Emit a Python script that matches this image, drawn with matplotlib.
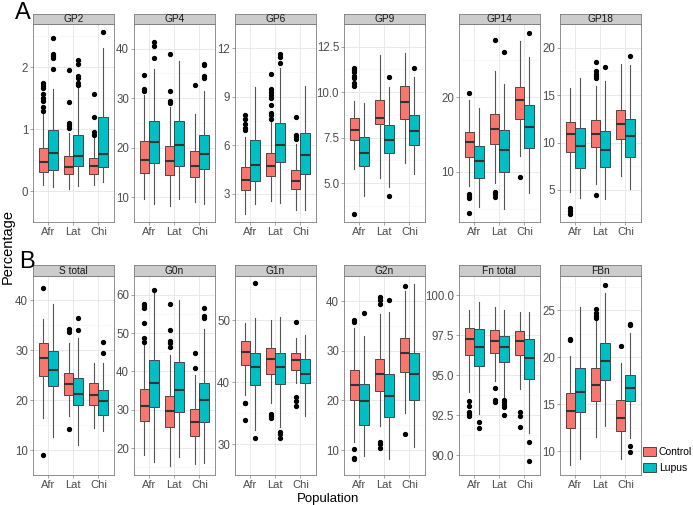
import matplotlib
matplotlib.use("Agg")
import matplotlib.pyplot as plt
from matplotlib.patches import Patch

plt.rcParams['font.family'] = ['Liberation Sans', 'DejaVu Sans']

# =========================================================================
# Datos: [bigote_inf, q1, mediana, q3, bigote_sup]
# orden de cajas: Afr-Control, Afr-Lupus, Lat-Control, Lat-Lupus, Chi-Control, Chi-Lupus
# =========================================================================
populations = ["Afr", "Lat", "Chi"]
groups = ["Control", "Lupus"]
colors = ["#F8766D", "#00BFC4"]

gp2_box = [[0.09, 0.30, 0.47, 0.69, 1.25], [0.07, 0.34, 0.61, 0.98, 1.65],
           [0.03, 0.27, 0.38, 0.57, 0.93], [0.08, 0.40, 0.56, 0.91, 1.68],
           [0.10, 0.28, 0.40, 0.53, 0.85], [0.14, 0.39, 0.60, 1.19, 2.31]]
gp2_out = [[1.30, 1.36, 1.45, 1.50, 1.56, 1.66, 1.70, 1.74], [1.97, 2.15, 2.18, 2.22, 2.47],
           [1.02, 1.06, 1.10, 1.43, 1.95], [1.72, 1.75, 1.83, 1.85, 2.05, 2.11],
           [0.91, 0.95, 1.20, 1.56], [2.57]]

gp4_box = [[9.7, 14.8, 17.5, 21.3, 30.7], [8.6, 17.0, 21.2, 25.5, 35.9],
           [8.3, 14.5, 17.4, 20.3, 28.2], [9.6, 16.4, 20.5, 25.5, 37.6],
           [9.0, 14.0, 16.3, 19.3, 26.8], [8.6, 15.8, 18.8, 22.5, 31.4]]
gp4_out = [[31.5, 31.8, 34.6], [38.2, 40.6, 41.3], [29.0, 29.5, 31.4, 39.0], [],
           [32.6], [34.0, 34.5, 36.7, 37.0]]

gp6_box = [[1.74, 3.21, 3.82, 4.65, 6.5], [2.34, 3.8, 4.76, 6.3, 9.59],
           [2.52, 4.1, 4.72, 5.53, 7.44], [2.4, 4.97, 6.02, 7.37, 10.8],
           [1.97, 3.31, 3.77, 4.45, 6.1], [1.98, 4.22, 5.37, 6.77, 9.64]]
gp6_out = [[6.93, 7.04, 7.28, 7.59, 7.88], [],
           [7.65, 7.85, 8.0, 8.5, 8.9, 9.13, 9.3, 9.5, 10.4], [11.1, 11.45, 11.67],
           [6.41, 6.52, 6.62, 7.75], []]

gp9_box = [[5.79, 7.36, 7.93, 8.57, 9.5], [4.31, 5.92, 6.67, 7.52, 9.38],
           [5.3, 8.27, 8.56, 9.59, 12.05], [4.8, 6.63, 7.38, 8.17, 10.3],
           [6.12, 8.5, 9.44, 10.33, 12.13], [5.5, 7.12, 7.84, 8.77, 10.82]]
gp9_out = [[3.3, 10.35, 10.5, 10.8, 10.9, 11.1, 11.2, 11.34], [], [],
           [4.3, 10.82], [], [11.31]]

gp14_box = [[8.0, 12.0, 13.95, 15.3, 19.7], [5.25, 9.1, 11.4, 13.5, 18.6],
            [8.48, 13.7, 15.8, 17.75, 23.6], [4.9, 10.0, 12.9, 15.65, 21.8],
            [12.06, 17.1, 19.7, 21.35, 27.6], [7.1, 13.2, 16.0, 19.0, 25.4]]
gp14_out = [[4.4, 6.4, 6.7, 7.0, 20.6], [], [6.6, 6.95, 7.2, 27.7], [26.1],
            [9.3], [28.7]]

gp18_box = [[4.8, 9.04, 10.86, 12.13, 15.77], [4.14, 7.28, 9.6, 11.57, 16.76],
            [5.65, 9.54, 10.86, 12.37, 16.0], [4.05, 7.44, 9.23, 11.2, 16.54],
            [6.51, 10.37, 11.98, 13.46, 18.25], [5.06, 8.43, 10.71, 12.5, 18.15]]
gp18_out = [[2.45, 2.8, 3.1], [], [4.5, 16.76, 17.0, 17.25, 17.5, 18.5], [18.0],
            [], [19.17]]

stot_box = [[16.4, 24.8, 28.4, 31.5, 36.3], [12.6, 22.9, 26.0, 29.9, 39.3],
            [16.9, 21.0, 23.3, 25.4, 31.5], [11.0, 19.0, 21.2, 24.5, 32.4],
            [14.5, 19.0, 21.1, 23.4, 27.5], [13.8, 17.1, 19.8, 22.0, 27.4]]
stot_out = [[9.0, 42.5], [], [14.3, 33.6, 34.2], [34.0, 36.4], [], [29.4, 31.7]]

g0n_box = [[18.3, 27.1, 31.0, 35.3, 46.9], [16.3, 30.8, 36.9, 43.0, 60.5],
           [15.3, 25.5, 29.7, 33.7, 44.3], [17.6, 29.3, 35.1, 42.5, 58.5],
           [15.9, 23.1, 26.9, 30.2, 39.0], [16.1, 26.8, 32.6, 36.9, 51.1]]
g0n_out = [[47.7, 48.6, 52.5, 56.6, 57.0, 57.5], [61.3],
           [46.4, 47.3, 48.0, 50.7, 57.6], [], [40.9, 44.9], [53.9, 54.4, 56.4]]

g1n_box = [[38.0, 42.8, 44.9, 46.7, 49.6], [32.3, 39.5, 42.5, 44.7, 50.4],
           [36.7, 41.3, 43.7, 45.5, 50.1], [32.8, 39.7, 42.5, 44.8, 50.6],
           [39.9, 42.0, 43.6, 44.7, 47.2], [34.6, 39.8, 41.4, 43.7, 47.6]]
g1n_out = [[33.9, 36.6, 36.7], [31.0, 56.0], [34.2, 34.5, 34.8], [31.0, 31.6, 31.9],
           [36.1, 37.0, 37.6, 49.7], []]

g2n_box = [[11.6, 20.0, 23.2, 26.2, 34.6], [8.8, 15.1, 19.9, 23.4, 33.0],
           [14.8, 22.0, 25.3, 28.3, 37.4], [8.3, 16.6, 21.0, 25.4, 37.9],
           [17.4, 25.7, 29.5, 32.5, 42.0], [10.6, 20.1, 25.4, 29.5, 43.4]]
g2n_out = [[8.2, 8.4, 10.3, 35.9, 36.3], [37.7], [10.5, 11.2, 11.6, 39.4, 40.3, 40.8],
           [40.3], [13.2, 43.1], []]

fnt_box = [[93.96, 96.26, 97.24, 97.97, 99.07], [92.6, 95.6, 96.8, 97.88, 99.58],
           [94.65, 96.37, 97.12, 97.81, 99.25], [93.65, 95.84, 96.75, 97.43, 99.07],
           [94.14, 96.24, 97.15, 97.76, 98.94], [91.37, 94.74, 96.11, 97.3, 98.94]]
fnt_out = [[92.45, 92.55, 92.7, 93.1, 93.4], [91.7, 92.1], [93.34, 93.45, 94.2],
           [92.53, 93.0, 93.15, 93.3, 93.45], [91.73, 92.43, 92.68], [89.65, 90.82]]

fbn_box = [[8.6, 12.5, 14.3, 16.2, 20.2], [9.2, 14.2, 16.3, 18.9, 25.4],
           [11.5, 15.4, 17.1, 18.9, 23.9], [12.7, 17.6, 19.6, 21.5, 26.8],
           [9.2, 12.2, 13.6, 15.5, 19.4], [11.4, 15.4, 16.8, 18.1, 22.6]]
fbn_out = [[21.9, 22.0], [], [24.15, 24.4, 24.75, 25.1], [27.75], [21.2],
           [9.9, 10.6, 23.4, 23.5]]

panel_titles = ["GP2", "GP4", "GP6", "GP9", "GP14", "GP18",
                "S total", "G0n", "G1n", "G2n", "Fn total", "FBn"]
panel_boxes = [gp2_box, gp4_box, gp6_box, gp9_box, gp14_box, gp18_box,
               stot_box, g0n_box, g1n_box, g2n_box, fnt_box, fbn_box]
panel_outs = [gp2_out, gp4_out, gp6_out, gp9_out, gp14_out, gp18_out,
              stot_out, g0n_out, g1n_out, g2n_out, fnt_out, fbn_out]
panel_ticks = [[0, 1, 2], [10, 20, 30, 40], [3, 6, 9, 12], [5.0, 7.5, 10.0, 12.5],
               [10, 20], [5, 10, 15, 20],
               [10, 20, 30, 40], [20, 30, 40, 50, 60], [30, 40, 50], [10, 20, 30, 40],
               [90.0, 92.5, 95.0, 97.5, 100.0], [10, 15, 20, 25]]
tick_fmt = ["{:g}", "{:g}", "{:g}", "{:.1f}", "{:g}", "{:g}",
            "{:g}", "{:g}", "{:g}", "{:g}", "{:.1f}", "{:g}"]

# =========================================================================
# Disposicion (pixeles de la figura 693x505)
# =========================================================================
W, H = 693, 505
col_x = [33, 134, 235, 344, 459, 560]
panel_w = 80.5
rows = [(24, 222), (275.5, 475)]   # (arriba, abajo) del panel
strip_h = 10.5

fig = plt.figure(figsize=(W / 100, H / 100), dpi=100)

TXT = "#4D4D4D"
BORDER = "#7F7F7F"

for i, title in enumerate(panel_titles):
    r, c = divmod(i, 6)
    top, bot = rows[r]
    x0 = col_x[c]
    ax = fig.add_axes([x0 / W, 1 - bot / H, panel_w / W, (bot - top) / H])
    boxes = panel_boxes[i]
    outs = panel_outs[i]

    stats = []
    positions = []
    for k, b in enumerate(boxes):
        stats.append(dict(whislo=b[0], q1=b[1], med=b[2], q3=b[3], whishi=b[4],
                          fliers=outs[k]))
        positions.append(1 + k // 2 + (-0.1875 if k % 2 == 0 else 0.1875))

    res = ax.bxp(stats, positions=positions, widths=0.375, patch_artist=True,
                 showcaps=False, manage_ticks=False,
                 boxprops=dict(edgecolor="#333333", linewidth=0.6),
                 medianprops=dict(color="#333333", linewidth=1.5),
                 whiskerprops=dict(color="#555555", linewidth=0.8),
                 flierprops=dict(marker="o", markerfacecolor="black",
                                 markeredgecolor="black", markersize=2.8))
    for k, patch in enumerate(res["boxes"]):
        patch.set_facecolor(colors[k % 2])

    allv = [v for b in boxes for v in (b[0], b[4])] + [v for o in outs for v in o]
    lo, hi = min(allv), max(allv)
    pad = 0.05 * (hi - lo)
    ax.set_ylim(lo - pad, hi + pad)
    ax.set_xlim(0.4, 3.6)

    ticks = panel_ticks[i]
    ax.set_yticks(ticks)
    ax.set_yticklabels([tick_fmt[i].format(t) for t in ticks])
    minors = [(a + b) / 2 for a, b in zip(ticks[:-1], ticks[1:])]
    step = ticks[1] - ticks[0]
    minors = [ticks[0] - step / 2] + minors + [ticks[-1] + step / 2]
    ax.set_yticks(minors, minor=True)
    ax.set_xticks([1, 2, 3])
    ax.set_xticklabels(populations)

    ax.grid(True, which="major", color="#E5E5E5", linewidth=0.6)
    ax.grid(True, which="minor", axis="y", color="#F5F5F5", linewidth=0.5)
    ax.set_axisbelow(True)
    ax.tick_params(which="major", length=2, width=0.5, color=BORDER,
                   labelsize=8.3, labelcolor=TXT, pad=1.5)
    ax.tick_params(axis="x", which="major", labelsize=8)
    ax.tick_params(which="minor", length=0)
    for s in ax.spines.values():
        s.set_color(BORDER)
        s.set_linewidth(0.6)

    # franja del titulo del panel
    sax = fig.add_axes([x0 / W, 1 - top / H, panel_w / W, strip_h / H])
    sax.set_facecolor("#CCCCCC")
    sax.set_xticks([])
    sax.set_yticks([])
    for s in sax.spines.values():
        s.set_color(BORDER)
        s.set_linewidth(0.6)
    sax.text(0.5, 0.45, title, ha="center", va="center", fontsize=7.3,
             color="#1A1A1A", transform=sax.transAxes)

fig.text(15 / W, 1 - 2 / H, "A", fontsize=17, va="top", ha="left")
fig.text(19 / W, 1 - 251 / H, "B", fontsize=17, va="top", ha="left")
fig.text(8 / W, 1 - 246 / H, "Percentage", rotation=90, fontsize=10.5,
         va="center", ha="center")
fig.text(328 / W, 1 - 502 / H, "Population", fontsize=9.5, va="baseline", ha="center")

handles = [Patch(facecolor=colors[g], edgecolor="#333333", linewidth=0.6)
           for g in range(2)]
fig.legend(handles, groups, loc="upper left",
           bbox_to_anchor=(643 / W, 1 - 447 / H), frameon=False, fontsize=7.5,
           handlelength=1.2, handleheight=0.95, handletextpad=0.3,
           labelspacing=0.55, borderpad=0, borderaxespad=0)

fig.savefig("out.png", dpi=100)
